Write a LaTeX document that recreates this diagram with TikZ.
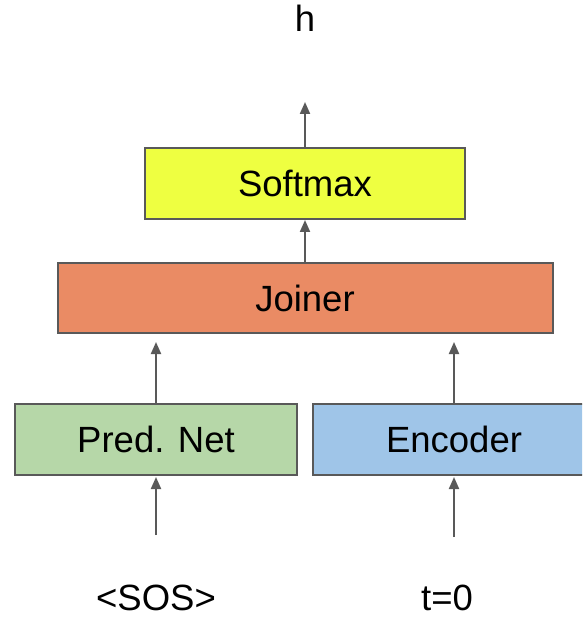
\documentclass[tikz,border=0pt]{standalone}
\usepackage{fontspec}
\setmainfont{Liberation Sans}
\usetikzlibrary{arrows.meta}
\definecolor{edgegray}{HTML}{595959}
\definecolor{softmaxfill}{HTML}{EEFF41}
\definecolor{joinerfill}{HTML}{EA8B64}
\definecolor{predfill}{HTML}{B6D7A8}
\definecolor{encfill}{HTML}{9FC5E8}
\tikzset{
  block/.style={draw=edgegray, line width=2pt, inner sep=0pt, minimum height=71pt,
    font=\fontsize{36.5}{40}\selectfont},
  label/.style={anchor=base, inner sep=0pt, text depth=0pt, font=\fontsize{36.5}{40}\selectfont},
  flow/.style={draw=edgegray, line width=2pt, -{Triangle[length=12pt,width=10pt]}},
}
\begin{document}
\begin{tikzpicture}[x=1pt,y=-1pt]
  \useasboundingbox (0,0) rectangle (582,617);
  \clip (0,0) rectangle (582,617);
  % layers of the transducer
  \node[block, fill=softmaxfill, minimum width=320pt] (softmax) at (305,183.5) {Softmax};
  \node[block, fill=joinerfill, minimum width=495pt, minimum height=70pt] (joiner) at (305,298) {Joiner};
  \node[block, fill=predfill, minimum width=282pt] (pred) at (156,439.5) {Pred. Net};
  \node[block, fill=encfill, minimum width=282pt] (enc) at (454,439.5) {Encoder};
  % inputs and output
  \node[label] (h) at (305,32) {h};
  \node[label] (sos) at (156,610) {<SOS>};
  \node[label] (t0) at (447,610) {t=0};
  \coordinate (out) at (305,102);
  \coordinate (sosin) at (156,535);
  \coordinate (encin) at (454,537);
  % connectors
  \draw[flow] (softmax.north) -- (out);
  \draw[flow] (joiner.north) -- (softmax.south);
  \draw[flow, shorten >=8pt] (pred.north) -- (pred.north |- joiner.south);
  \draw[flow, shorten >=8pt] (enc.north) -- (enc.north |- joiner.south);
  \draw[flow, shorten >=1pt] (sosin) -- (pred.south);
  \draw[flow, shorten >=1pt] (encin) -- (enc.south);
\end{tikzpicture}
\end{document}
